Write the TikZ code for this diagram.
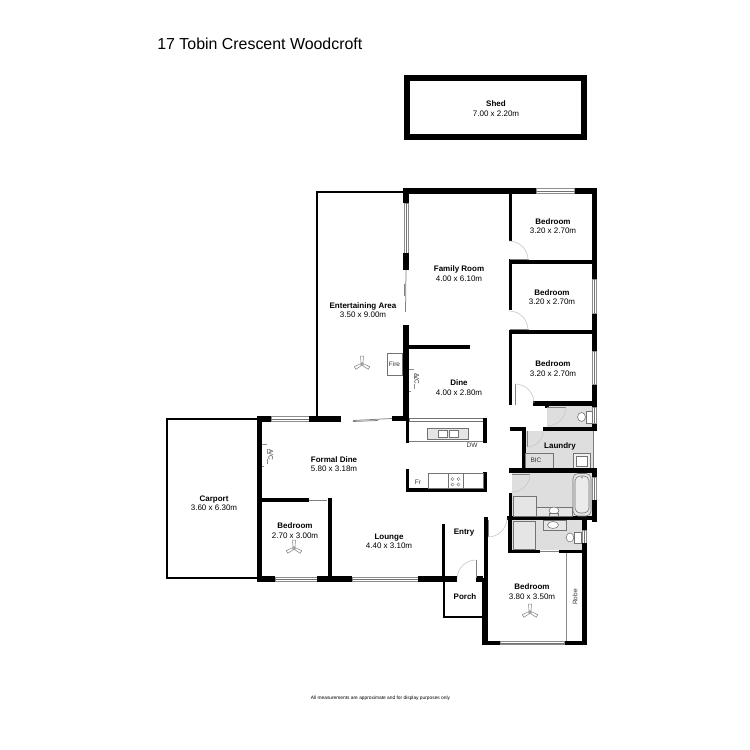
\documentclass[tikz,border=0pt]{standalone}
\usepackage{fontspec}
\setmainfont{Liberation Sans}
\newcommand{\WL}[4]{\fill[wallfill] (#1,#2) rectangle (#3,#4);}
\newcommand{\WH}[4]{\draw[winbox] (#1,#2) rectangle (#3,#4); \draw[winbar] (#1,{(#2+#4)/2}) -- (#3,{(#2+#4)/2});}
\newcommand{\WV}[4]{\draw[winbox] (#1,#2) rectangle (#3,#4); \draw[winbar] ({(#1+#3)/2},#2) -- ({(#1+#3)/2},#4);}
\newcommand{\FAN}[2]{\begin{scope}[shift={(#1,#2)}]
\foreach \a in {90,210,330}{\draw[fanline,rotate=\a] (1.2,-1) -- (8,-1.5) -- (8,1.5) -- (1.2,1) -- cycle;}
\draw[fanline,fill=white] (0,0) circle (1.3);\end{scope}}
\tikzset{x=0.6pt,y=-0.6pt,
 wallfill/.style={fill=black},
 winbox/.style={draw=black!45,fill=white,line width=0.35pt},
 winbar/.style={draw=black!55,line width=0.35pt},
 wet/.style={fill=black!13},
 fixture/.style={draw=black!55,fill=black!10,line width=0.35pt},
 plainfix/.style={draw=black!55,fill=white,line width=0.35pt},
 thin wall/.style={draw=black,line width=1.2pt},
 doorleaf/.style={draw=black!50,line width=0.45pt},
 doorarc/.style={draw=black!22,line width=0.35pt},
 fanline/.style={draw=black!50,line width=0.3pt},
 room/.style={align=center,font=\fontsize{4.8}{5.7}\selectfont,inner sep=0pt},
 small/.style={font=\fontsize{3.9}{4.5}\selectfont,inner sep=0pt,text=black!80}}
\newcommand{\RM}[2]{\textbf{#1}\\#2}
\begin{document}
\begin{tikzpicture}
\useasboundingbox[fill=white] (0,0) rectangle (750,750);
% wet areas
\fill[wet] (547,406) rectangle (592,427);
\fill[wet] (526,431) rectangle (593,468);
\fill[wet] (512,473) rectangle (592,516);
\fill[wet] (512,520) rectangle (582,550);
% thin outlines
\draw[thin wall] (317,417) -- (317,192.5) -- (404,192.5);
\draw[thin wall] (257,419) -- (167,419) -- (167,578) -- (257,578);
\draw[thin wall] (443.5,580) -- (443.5,616.5) -- (483,616.5);
% shed
\draw[line width=3.6pt,miter limit=10] (407,78) rectangle (584,137);
% top and right walls
\WL{403}{188}{597}{194}
\WH{536}{188.5}{574}{193.5}
\WL{592}{188}{597}{431}
\WV{592.5}{279}{596.5}{313}
\WV{592.5}{351}{596.5}{384}
\WV{592.5}{407}{596.5}{423}
% family room west
\WL{403}{188}{409}{203}
\WV{404}{203}{408.5}{253}
\WL{403}{253}{409}{270}
\draw[doorleaf] (406,270) -- (405.5,312);
\draw[doorleaf] (404.5,284) -- (404.5,296);
\WL{403}{325}{409}{417}
\WL{406}{417}{409}{443}
\WL{409}{345}{470}{349}
% bedroom partitions
\WL{509}{194}{512}{241}
\WL{509}{259}{512}{310}
\WL{509}{330}{512}{405}
\WL{509}{260}{592}{264}
\WL{509}{330}{592}{334}
\WL{533}{401}{592}{406}
\WL{545}{406}{549}{408}
\WL{543}{427}{597}{431}
% bedroom doors
\draw[doorleaf] (510,259.5) -- (529,259.5);
\draw[doorarc] (509,241) arc[start angle=-90,end angle=0,radius=19];
\draw[doorleaf] (510,329.5) -- (529,329.5);
\draw[doorarc] (509,311) arc[start angle=-90,end angle=0,radius=19];
\draw[doorleaf] (515,405) -- (515,384);
\draw[doorarc] (515,384) arc[start angle=-90,end angle=0,radius=19];
% toilet door
\draw[doorleaf] (547,407) -- (566,407);
\draw[doorarc] (566,407) arc[start angle=0,end angle=90,radius=19];
% laundry
\WL{510}{427}{526}{431}
\WL{522}{427}{526}{470}
\draw[doorleaf] (527,431) -- (527,447);
\draw[doorarc] (543,431) arc[start angle=0,end angle=90,radius=16];
\draw[plainfix,fill=black!13] (525,453) rectangle (553,468);
\draw[plainfix,fill=black!6] (573,453) rectangle (590,468);
\draw[plainfix,fill=white] (576,456) rectangle (587,466);
\draw[doorleaf] (593,431) -- (593,468);
% bathroom
\WL{509}{468}{597}{473}
\WL{509}{493}{512}{517}
\WL{592}{468}{597}{477}
\WV{592.5}{477}{596.5}{500}
\WL{592}{500}{597}{522}
\WL{507}{516}{597}{520}
\WL{582}{520}{587}{530}
\draw[doorleaf] (512,474) -- (530,474);
\draw[doorarc] (530,474) arc[start angle=0,end angle=90,radius=18];
\draw[fixture,rounded corners=3pt] (573,473.5) rectangle (591,516);
\draw[plainfix,fill=black!8,rounded corners=3pt] (575,476) rectangle (589,513);
\fill[black!50] (582,477.5) circle (0.9);
\draw[fixture] (513,496) rectangle (536,516);
\draw[fixture] (536,507) rectangle (572,516);
\draw[plainfix] (554,510.5) ellipse (5 and 3.5);
\draw[fixture] (549.5,513) rectangle (558.5,516);
% lower bathroom
\WL{508}{518}{512}{553}
\WL{508}{550}{540}{553}
\WL{559}{550}{587}{553}
\draw[doorleaf] (540,551.5) -- (559,551.5);
\draw[fixture] (513,521) rectangle (535,549);
\draw[fixture] (543,520) rectangle (566,530);
\draw[plainfix] (553,525) ellipse (5.5 and 3.5);
\draw[plainfix] (570,537.5) ellipse (3.8 and 4.5);
\draw[plainfix] (574,532) rectangle (581,543);
\WV{582.5}{530}{586.5}{543}
% upper toilet
\draw[plainfix] (581.5,417) ellipse (4 and 4.5);
\draw[plainfix] (586,411) rectangle (592,423);
% robe and main bedroom
\draw[draw=black!45,line width=0.5pt] (566,553) -- (566,641);
\WL{582}{543}{587}{645}
\WL{482}{641}{587}{645}
\WH{500}{641.5}{564}{644.5}
\WL{482}{578}{488}{645}
\WL{483.5}{517}{488}{580}
\draw[doorleaf] (488.5,520) -- (488.5,537);
\draw[doorarc] (488,537) arc[start angle=90,end angle=0,radius=19];
% entry and porch
\WL{442}{524}{445}{578}
\WL{418}{576}{457}{582}
\WL{476}{576}{483}{582}
\draw[doorleaf] (476,578) -- (476,560);
\draw[doorarc] (476,560) arc[start angle=-90,end angle=-180,radius=19];
% south and west walls of house
\WL{257}{416}{262}{582}
\WL{257}{416}{271}{422}
\WH{271}{416.5}{309}{421.5}
\WL{309}{416}{341}{422}
\draw[doorleaf] (353,420.5) -- (392,418.5);
\draw[doorleaf] (353,421.5) -- (378,420.5);
\WL{392}{416}{409}{421}
\WL{262}{498}{309}{502}
\draw[doorleaf] (309,500) -- (327,500);
\WL{328}{498}{332}{578}
\WL{257}{576}{275}{582}
\WH{275}{577}{317}{581}
\WL{317}{576}{352}{582}
\WH{352}{577}{418}{581}
\WL{418}{576}{457}{582}
% kitchen
\draw[plainfix] (409,418) rectangle (483,421);
\WL{483}{418}{487}{443}
\draw[doorleaf] (409,441) -- (483,441);
\draw[fixture] (427,428) rectangle (468,439);
\draw[plainfix] (438,430) rectangle (447,437);
\draw[plainfix] (449,430) rectangle (458,437);
\WL{406}{469}{409}{492}
\WL{406}{488}{487}{492}
\WL{483}{472}{487}{492}
\draw[plainfix] (428,473) rectangle (483,488);
\draw[plainfix] (448,473) rectangle (463,488);
\foreach \p in {(452.5,479),(458.5,479),(452.5,484.5),(458.5,484.5)}{\draw[fanline] \p circle (1.6);}
% fire
\draw[draw=black!55,fill=white,line width=0.4pt] (387,353) rectangle (402,375);
% A/C brackets
\draw[draw=black!45,dashed,line width=0.35pt] (409,369) -- (414,369) -- (414,391) -- (409,391);
\draw[draw=black!45,dashed,line width=0.35pt] (262,444) -- (267,444) -- (267,466) -- (262,466);
% fans
\FAN{362}{364}
\FAN{294}{548}
\FAN{530}{612}
% labels
\node[anchor=west,inner sep=0pt,font=\fontsize{9.55}{11}\selectfont] (title) at (157,44) {17 Tobin Crescent Woodcroft};
\node[room] (shed) at (496,108.5) {\RM{Shed}{7.00 x 2.20m}};
\node[room] (bed1) at (553,226) {\RM{Bedroom}{3.20 x 2.70m}};
\node[room] (bed2) at (552,297) {\RM{Bedroom}{3.20 x 2.70m}};
\node[room] (bed3) at (553,368.5) {\RM{Bedroom}{3.20 x 2.70m}};
\node[room] (family) at (459,273.5) {\RM{Family Room}{4.00 x 6.10m}};
\node[room] (ent) at (363,310) {\RM{Entertaining Area}{3.50 x 9.00m}};
\node[room] (dine) at (459,387.5) {\RM{Dine}{4.00 x 2.80m}};
\node[room] (formal) at (334,464) {\RM{Formal Dine}{5.80 x 3.18m}};
\node[room] (carport) at (214,503) {\RM{Carport}{3.60 x 6.30m}};
\node[room] (bed4) at (295,530.5) {\RM{Bedroom}{2.70 x 3.00m}};
\node[room] (lounge) at (389,541.5) {\RM{Lounge}{4.40 x 3.10m}};
\node[room] (bed5) at (532,591.5) {\RM{Bedroom}{3.80 x 3.50m}};
\node[room] (laundry) at (560,446) {\textbf{Laundry}};
\node[room] (entry) at (464,533) {\textbf{Entry}};
\node[room] (porch) at (465,597) {\textbf{Porch}};
\node[small] (bic) at (536,460) {BIC};
\node[small] (dw) at (472,445) {DW};
\node[small] (fr) at (418,482) {Fr};
\node[small] (fire) at (394.5,364) {Fire};
\node[small,rotate=-90] (ac1) at (417,379) {A/C};
\node[small,rotate=-90] (ac2) at (271,455) {A/C};
\node[small,rotate=90] (robe) at (575,597) {Robe};
\node[inner sep=0pt,font=\fontsize{2.9}{3.4}\selectfont] (foot) at (380.5,698) {All measurements are approximate and for display purposes only};
\end{tikzpicture}
\end{document}
